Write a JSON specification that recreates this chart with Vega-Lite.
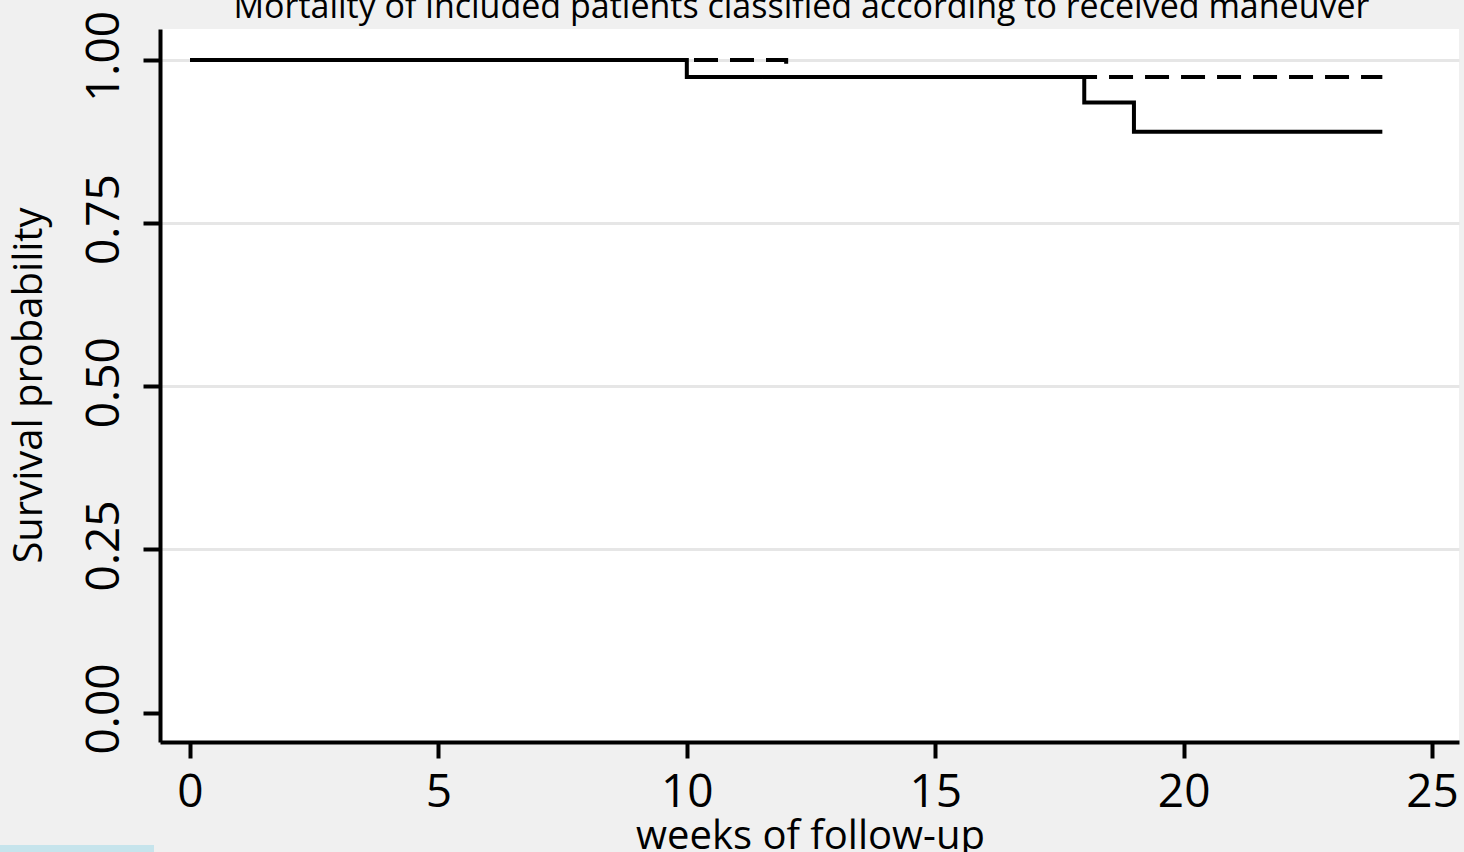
{
  "$schema": "https://vega.github.io/schema/vega-lite/v6.json",
  "width": 1299,
  "height": 713,
  "autosize": {"type": "none"},
  "padding": {"left": 160, "top": 29, "right": 5, "bottom": 110},
  "background": "#f0f0f0",
  "title": {
    "text": "Mortality of included patients classified according to received maneuver",
    "frame": "group",
    "anchor": "middle",
    "baseline": "alphabetic",
    "offset": -12,
    "dy": 30,
    "dx": -8,
    "font": "Open Sans",
    "fontSize": 34,
    "fontWeight": "normal",
    "color": "#000000"
  },
  "config": {
    "view": {"fill": "#ffffff", "stroke": null},
    "font": "Open Sans"
  },
  "data": {
    "values": [
      {"week": 0, "survival": 1.0, "group": "maneuver = 0"},
      {"week": 10, "survival": 0.974, "group": "maneuver = 0"},
      {"week": 18, "survival": 0.935, "group": "maneuver = 0"},
      {"week": 19, "survival": 0.89, "group": "maneuver = 0"},
      {"week": 24, "survival": 0.89, "group": "maneuver = 0"},
      {"week": 0, "survival": 1.0, "group": "maneuver = 1"},
      {"week": 12, "survival": 0.974, "group": "maneuver = 1"},
      {"week": 24, "survival": 0.974, "group": "maneuver = 1"}
    ]
  },
  "mark": {"type": "line", "interpolate": "step-after", "color": "#000000", "strokeWidth": 4, "clip": false},
  "encoding": {
    "x": {
      "field": "week",
      "type": "quantitative",
      "scale": {"domain": [-0.604, 25.543], "nice": false, "zero": false},
      "axis": {
        "title": "weeks of follow-up",
        "titleFont": "Open Sans",
        "titleFontSize": 40,
        "titleFontWeight": "normal",
        "titleColor": "#000000",
        "titleBaseline": "alphabetic",
        "titleAnchor": "middle",
        "titleX": 650,
        "titleY": 106,
        "values": [0, 5, 10, 15, 20, 25],
        "format": "d",
        "labelFont": "Open Sans",
        "labelFontSize": 46,
        "labelColor": "#000000",
        "labelPadding": 12,
        "labelFlush": false,
        "labelOverlap": false,
        "tickSize": 16,
        "tickWidth": 4,
        "tickColor": "#000000",
        "domainColor": "#000000",
        "domainWidth": 4,
        "grid": false
      }
    },
    "y": {
      "field": "survival",
      "type": "quantitative",
      "scale": {"domain": [-0.0452, 1.0475], "nice": false, "zero": false},
      "axis": {
        "title": "Survival probability",
        "titleFont": "Open Sans",
        "titleFontSize": 40,
        "titleFontWeight": "normal",
        "titleColor": "#000000",
        "titleAngle": 270,
        "titleBaseline": "alphabetic",
        "titleAnchor": "middle",
        "titleX": -119,
        "titleY": 356,
        "values": [0, 0.25, 0.5, 0.75, 1],
        "format": ".2f",
        "labelFont": "Open Sans",
        "labelFontSize": 46,
        "labelColor": "#000000",
        "labelAngle": 270,
        "labelAlign": "center",
        "labelBaseline": "bottom",
        "labelPadding": 15,
        "labelOffset": -4,
        "labelFlush": false,
        "labelOverlap": false,
        "tickSize": 17,
        "tickWidth": 4,
        "tickColor": "#000000",
        "domainColor": "#000000",
        "domainWidth": 4,
        "grid": true,
        "gridColor": "#e6e6e6",
        "gridWidth": 3,
        "gridOpacity": {"condition": {"test": "datum.value === 0", "value": 0}, "value": 1}
      }
    },
    "strokeDash": {
      "field": "group",
      "type": "nominal",
      "scale": {"domain": ["maneuver = 0", "maneuver = 1"], "range": [[1, 0], [24, 12]]},
      "legend": {
        "title": null,
        "orient": "none",
        "legendX": -160,
        "legendY": 816,
        "fillColor": "#c6e4ec",
        "padding": 63,
        "labelExpr": "''",
        "labelOffset": 4,
        "symbolType": "stroke",
        "symbolSize": 400,
        "symbolStrokeColor": "#000000",
        "symbolStrokeWidth": 3
      }
    }
  }
}
